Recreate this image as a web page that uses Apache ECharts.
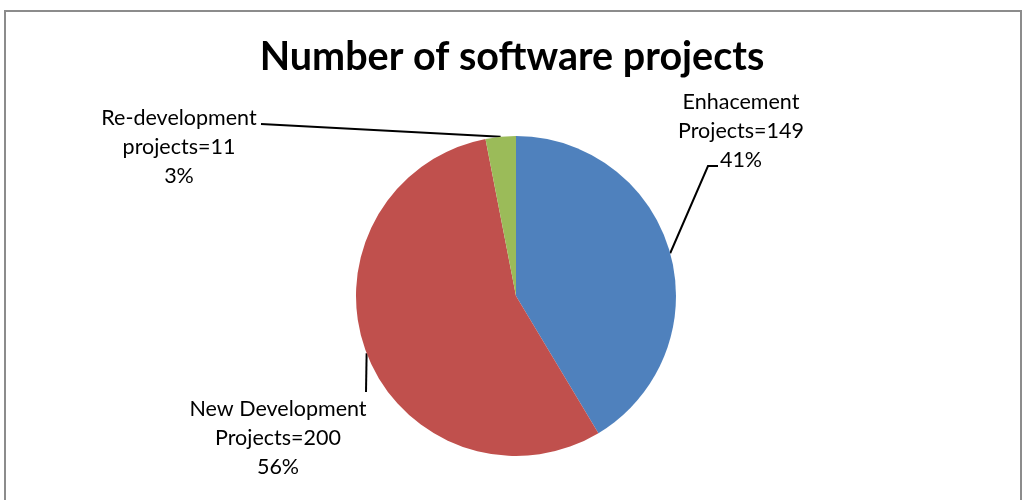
<!DOCTYPE html>
<html>
<head>
<meta charset="utf-8">
<style>
  html, body { margin: 0; padding: 0; background: #fff; }
  #chart { width: 1024px; height: 500px; }
</style>
<script src="https://cdn.jsdelivr.net/npm/echarts@6/dist/echarts.min.js"></script>
</head>
<body>
<div id="chart"></div>
<script>
// Project counts by type
const categories = ['Enhacement Projects', 'New Development Projects', 'Re-development projects'];
const projectCounts = [149, 200, 11];
const sliceColors = ['#4F81BD', '#C0504D', '#9BBB59'];

// Label placement (label anchor + leader-line elbow) per slice, in pixels
const labelSpots = [
  { x: 741, y: 88,  elbow: [[708, 166], [718, 166]] },
  { x: 278, y: 395, elbow: [[366, 392]] },
  { x: 179, y: 104, elbow: [[261, 124]] }
];

const total = projectCounts.reduce((a, b) => a + b, 0);
const FONT = 'Lato, "Open Sans", sans-serif';

const chart = echarts.init(document.getElementById('chart'));
chart.setOption({
  animation: false,
  backgroundColor: '#ffffff',
  title: {
    text: 'Number of software projects',
    left: 'center',
    top: 32,
    textStyle: { fontFamily: FONT, fontSize: 39.5, fontWeight: 'bold', color: '#000' }
  },
  graphic: [{
    type: 'rect',
    shape: { x: 5, y: 11, width: 1016, height: 510 },
    style: { fill: 'none', stroke: '#8c8c8c', lineWidth: 2 },
    silent: true
  }],
  series: [{
    type: 'pie',
    center: [516, 296],
    radius: 160,
    startAngle: 90,
    clockwise: true,
    avoidLabelOverlap: false,
    itemStyle: { borderWidth: 0 },
    data: categories.map((name, i) => ({
      name: name,
      value: projectCounts[i],
      itemStyle: { color: sliceColors[i] }
    })),
    label: {
      show: true,
      position: 'outside',
      fontFamily: FONT,
      fontSize: 21.5,
      lineHeight: 29,
      color: '#000',
      align: 'center',
      formatter: function (p) {
        const cut = p.name.lastIndexOf(' ');
        const head = p.name.slice(0, cut);
        const tail = p.name.slice(cut + 1);
        const pct = Math.round(p.value / total * 100);
        return head + '\n' + tail + '=' + p.value + '\n' + pct + '%';
      }
    },
    labelLine: {
      show: true,
      length: 20,
      length2: 10,
      lineStyle: { color: '#000', width: 2 }
    },
    labelLayout: function (params) {
      const spot = labelSpots[params.dataIndex];
      const start = params.labelLinePoints ? params.labelLinePoints[0] : null;
      const out = {
        x: spot.x,
        y: spot.y,
        align: 'center',
        verticalAlign: 'top'
      };
      if (start) {
        out.labelLinePoints = [start].concat(spot.elbow);
        if (out.labelLinePoints.length < 3) {
          out.labelLinePoints.push(spot.elbow[spot.elbow.length - 1]);
        }
      }
      return out;
    }
  }]
});
</script>
</body>
</html>
